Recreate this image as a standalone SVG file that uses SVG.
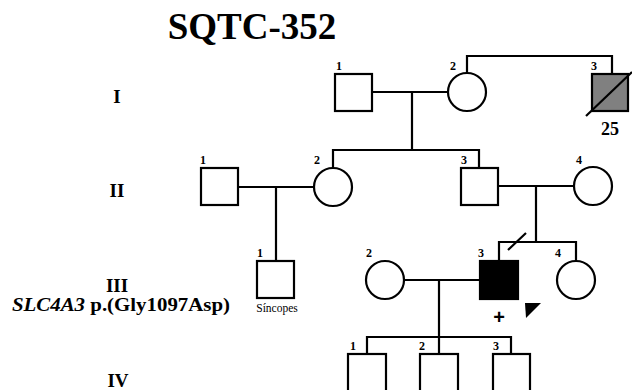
<svg xmlns="http://www.w3.org/2000/svg" width="632" height="390" viewBox="0 0 632 390">
<style>
.s{fill:#fff;stroke:#000;stroke-width:2.2}
.l{fill:none;stroke:#000;stroke-width:2.2}
.n{font-family:"Liberation Serif",serif;font-weight:bold;font-size:12px;fill:#000}
.g{font-family:"Liberation Serif",serif;font-weight:bold;font-size:19px;fill:#000;text-anchor:middle}
</style>
<rect width="632" height="390" fill="#fff"/>
<text x="252" y="39" font-family="Liberation Serif, serif" font-weight="bold" font-size="37" text-anchor="middle">SQTC-352</text>
<g id="gen-labels">
<text class="g" x="117" y="103">I</text>
<text class="g" x="117" y="197">II</text>
<text class="g" x="117" y="292">III</text>
<text class="g" x="118" y="387">IV</text>
<text x="12" y="311" font-family="Liberation Serif, serif" font-weight="bold" font-size="18" textLength="218" lengthAdjust="spacingAndGlyphs"><tspan font-style="italic">SLC4A3</tspan> p.(Gly1097Asp)</text>
</g>
<g id="connectors">
<path class="l" d="M372,92H448M412,92V150M467,73V56H612V74"/>
<path class="l" d="M333,168V150H479V168"/>
<path class="l" d="M238,187H314M276,187V261"/>
<path class="l" d="M498,186H574M536,186V242M499,261V242H576V261M508,250L526,233"/>
<path class="l" d="M404,280H480M439,280V337M367,354V337H511V354M439,337V354"/>
</g>
<g id="I-1"><rect class="s" x="335" y="74" width="37" height="37"/><text class="n" x="336" y="70">1</text></g>
<g id="I-2"><circle class="s" cx="467" cy="92" r="19"/><text class="n" x="450" y="70">2</text></g>
<g id="I-3"><rect class="s" x="592" y="74" width="36" height="37" style="fill:#808080"/><path class="l" d="M586,116L632,72"/><text class="n" x="591" y="70">3</text><text x="610" y="135" font-family="Liberation Serif, serif" font-weight="bold" font-size="18" text-anchor="middle">25</text></g>
<g id="II-1"><rect class="s" x="201" y="168" width="37" height="37"/><text class="n" x="200" y="164">1</text></g>
<g id="II-2"><circle class="s" cx="333" cy="187" r="19"/><text class="n" x="314" y="164">2</text></g>
<g id="II-3"><rect class="s" x="461" y="168" width="37" height="37"/><text class="n" x="461" y="164">3</text></g>
<g id="II-4"><circle class="s" cx="593" cy="186" r="19"/><text class="n" x="576" y="164">4</text></g>
<g id="III-1"><rect class="s" x="257" y="261" width="37" height="37"/><text class="n" x="257" y="257">1</text><text x="277" y="312" font-family="Liberation Serif, serif" font-size="11.5" text-anchor="middle">Síncopes</text></g>
<g id="III-2"><circle class="s" cx="385" cy="280" r="19"/><text class="n" x="366" y="257">2</text></g>
<g id="III-3"><rect x="480" y="261" width="38" height="38" fill="#000" stroke="#000" stroke-width="2.2"/><text class="n" x="478" y="257">3</text><text x="499" y="324" font-family="Liberation Sans, sans-serif" font-weight="bold" font-size="20" text-anchor="middle">+</text><path d="M525,303H541L526,318Z" fill="#000"/></g>
<g id="III-4"><circle class="s" cx="576" cy="280" r="19"/><text class="n" x="555" y="257">4</text></g>
<g id="IV-1"><rect class="s" x="348" y="354" width="38" height="45"/><text class="n" x="350" y="350">1</text></g>
<g id="IV-2"><rect class="s" x="420" y="354" width="38" height="45"/><text class="n" x="419" y="350">2</text></g>
<g id="IV-3"><rect class="s" x="493" y="354" width="37" height="45"/><text class="n" x="493" y="350">3</text></g>
</svg>
